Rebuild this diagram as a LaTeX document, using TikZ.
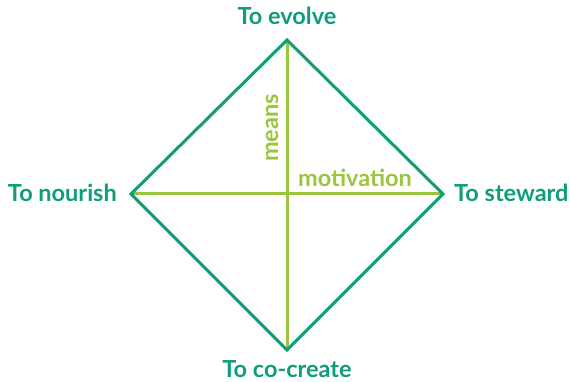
\documentclass[tikz,border=0pt]{standalone}
\usepackage{fontspec}
\setmainfont{Lato}
\definecolor{dgreen}{HTML}{0E9E7C}
\definecolor{lgreen}{HTML}{9BC53D}
\begin{document}
\begin{tikzpicture}[x=1pt,y=-1pt,
  lab/.style={text=dgreen,font=\fontsize{23.5}{26}\selectfont\bfseries,inner sep=0pt},
  llab/.style={text=lgreen,font=\fontsize{23.5}{26}\selectfont\bfseries,inner sep=0pt},
  dline/.style={draw=dgreen,line width=3pt,line join=miter},
  lline/.style={draw=lgreen,line width=3pt}]
\useasboundingbox (0,0) rectangle (570,382);
\coordinate (T) at (287,40);
\coordinate (L) at (131,194);
\coordinate (R) at (443,194);
\coordinate (B) at (287,350);
\draw[lline] (T) -- (B);
\draw[lline] (L) -- (R);
\draw[dline] (T) -- (R) -- (B) -- (L) -- cycle;
\node[lab,anchor=base] (evolve) at (287,25) {To evolve};
\node[lab,anchor=base east] (nourish) at (117,201) {To nourish};
\node[lab,anchor=base west] (steward) at (454,201) {To steward};
\node[lab,anchor=base] (cocreate) at (287,377) {To co-create};
\node[llab,rotate=90,anchor=base] (means) at (278,128) {means};
\node[llab,anchor=base] (motivation) at (355,187) {motivation};
\end{tikzpicture}
\end{document}
